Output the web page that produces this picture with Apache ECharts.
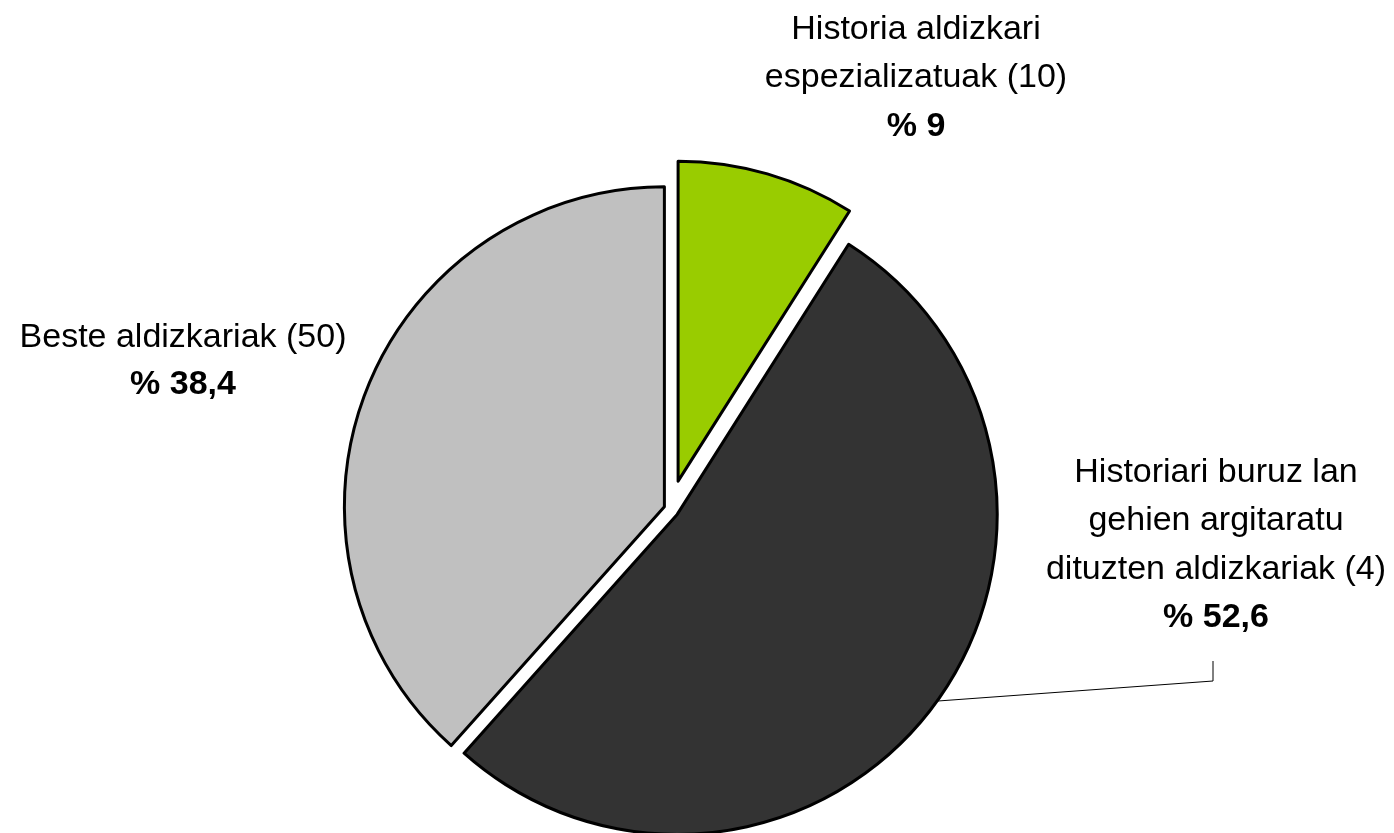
<!DOCTYPE html>
<html>
<head>
<meta charset="utf-8">
<script src="https://cdn.jsdelivr.net/npm/echarts@6/dist/echarts.min.js"></script>
<style>
  html, body { margin: 0; padding: 0; background: #fff; }
  #chart { width: 1394px; height: 833px; }
</style>
</head>
<body>
<div id="chart"></div>
<script>
// data
const sliceNames = [
  'Historia aldizkari\nespezializatuak (10)',
  'Historiari buruz lan\ngehien argitaratu\ndituzten aldizkariak (4)',
  'Beste aldizkariak (50)'
];
const sliceShares = [9, 52.6, 38.4];
const shareLabels = ['% 9', '% 52,6', '% 38,4'];

// styles / layout
const sliceColors = ['#99CC00', '#333333', '#C0C0C0'];
const explode = [29, 9, 6];
const labelPos = [[916, 78], [1216, 545], [183, 361]];
const labelLineHeights = [48.5, 48.5, 47];
const pieCenter = [670, 509];
const pieRadius = 320;

const chart = echarts.init(document.getElementById('chart'));

const transparent = { color: 'rgba(0,0,0,0)', borderWidth: 0 };

// one series per slice so each slice can have its own explosion
const series = sliceShares.map(function (v, i) {
  return {
    type: 'pie',
    z: 3,
    center: pieCenter,
    radius: pieRadius,
    startAngle: 90,
    clockwise: true,
    silent: true,
    animation: false,
    selectedMode: 'multiple',
    selectedOffset: explode[i],
    emphasis: { disabled: true },
    label: { show: false },
    labelLine: { show: false },
    data: sliceShares.map(function (val, j) {
      const own = j === i;
      const style = own
        ? { color: sliceColors[j], borderColor: '#000', borderWidth: 3 }
        : transparent;
      return {
        value: val,
        name: sliceNames[j],
        selected: own,
        itemStyle: style,
        select: { itemStyle: style }
      };
    })
  };
});

// labels only, drawn under the slices
const textStyle = function (lh, bold) {
  return {
    fontFamily: 'Liberation Sans',
    fontSize: 34,
    fontWeight: bold ? 'bold' : 'normal',
    color: '#000',
    lineHeight: lh,
    align: 'center'
  };
};

series.push({
  type: 'pie',
  z: 1,
  center: pieCenter,
  radius: pieRadius,
  startAngle: 90,
  clockwise: true,
  silent: true,
  animation: false,
  avoidLabelOverlap: false,
  emphasis: { disabled: true },
  data: sliceShares.map(function (val, j) {
    return {
      value: val,
      name: sliceNames[j],
      itemStyle: transparent,
      label: {
        rich: { n: textStyle(labelLineHeights[j], false), p: textStyle(labelLineHeights[j], true) }
      },
      labelLine: { show: j === 1 }
    };
  }),
  label: {
    show: true,
    position: 'outside',
    formatter: function (p) {
      return '{n|' + sliceNames[p.dataIndex] + '}\n{p|' + shareLabels[p.dataIndex] + '}';
    }
  },
  labelLine: {
    lineStyle: { color: '#000', width: 1 }
  },
  labelLayout: function (params) {
    const i = params.dataIndex;
    const out = {
      x: labelPos[i][0],
      y: labelPos[i][1],
      align: 'center',
      verticalAlign: 'middle'
    };
    if (i === 1 && params.labelLinePoints) {
      out.labelLinePoints = [params.labelLinePoints[0], [1213, 681], [1213, 661]];
    }
    return out;
  }
});

chart.setOption({
  backgroundColor: '#fff',
  series: series
});
</script>
</body>
</html>
